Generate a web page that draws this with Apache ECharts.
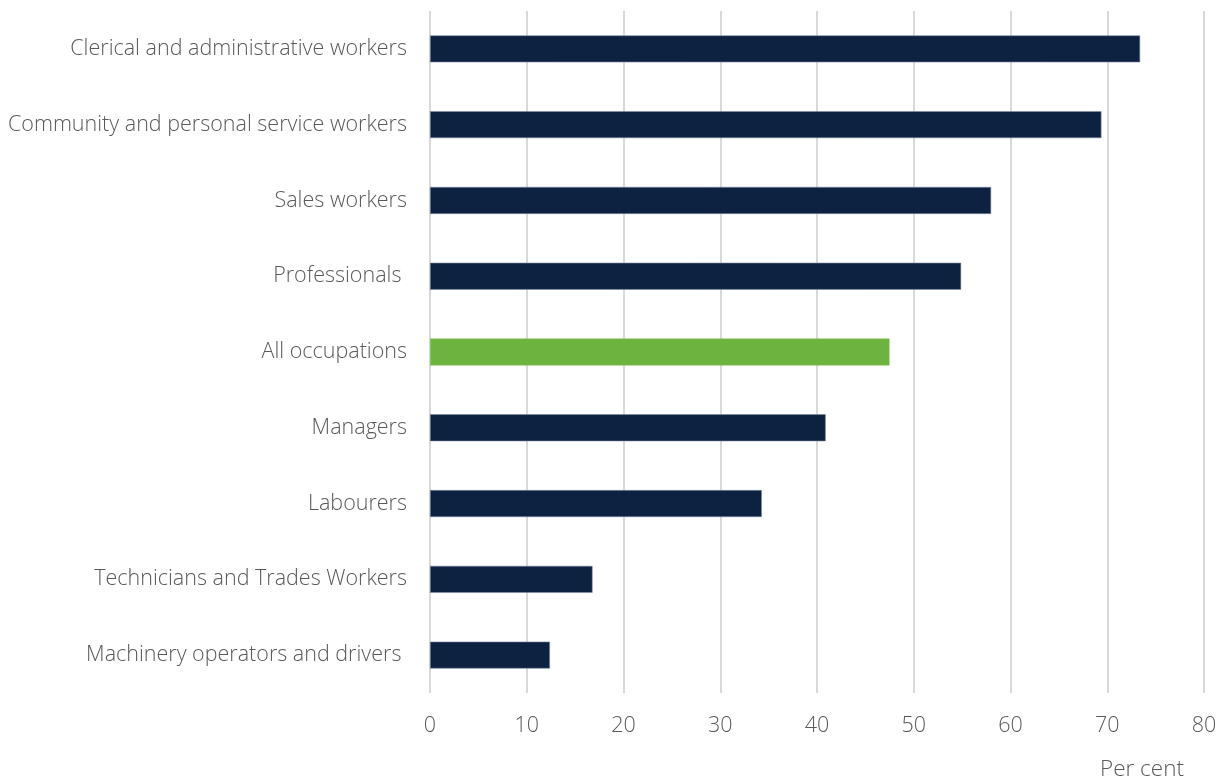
<!DOCTYPE html>
<html><head><meta charset="utf-8">
<script src="https://cdn.jsdelivr.net/npm/echarts@6/dist/echarts.min.js"></script>
<style>html,body{margin:0;padding:0;background:#fff}#c{width:1223px;height:784px}</style>
</head><body><div id="c"></div>
<script>
const categories = ["Machinery operators and drivers ", "Technicians and Trades Workers", "Labourers", "Managers", "All occupations", "Professionals ", "Sales workers", "Community and personal service workers", "Clerical and administrative workers"];
const values = [12.4, 16.8, 34.3, 40.9, 47.5, 54.9, 58.0, 69.4, 73.4];
const highlight = "All occupations";
const xTicks = [0, 10, 20, 30, 40, 50, 60, 70, 80];

const chart = echarts.init(document.getElementById('c'));
const font = '"Open Sans"';
const fw = 300;
chart.setOption({
  animation: false,
  title: { text: 'Per cent', left: 1095, top: 753, textStyle: { fontFamily: font, fontSize: 22.5, fontWeight: fw, color: '#595959' } },
  grid: { left: 430, right: 19, top: 11, bottom: 91 },
  xAxis: {
    type: 'value', min: xTicks[0], max: xTicks[xTicks.length - 1], interval: 10,
    axisLine: { show: false }, axisTick: { show: false },
    splitLine: { lineStyle: { color: '#d9d9d9', width: 2 } },
    axisLabel: { margin: 22, fontFamily: font, fontSize: 21.5, fontWeight: fw, color: '#595959' }
  },
  yAxis: {
    type: 'category', data: categories,
    axisLine: { show: false }, axisTick: { show: false },
    axisLabel: { margin: 23, fontFamily: font, fontSize: 21.5, fontWeight: fw, color: '#595959' }
  },
  series: [{
    type: 'bar', barWidth: 27,
    data: values.map((v, i) => ({
      value: v,
      itemStyle: { color: categories[i] === highlight ? '#6DB33F' : '#0D2240', borderColor: categories[i] === highlight ? '#8cc865' : '#7f8ea3', borderWidth: 0.6 }
    }))
  }]
});
</script></body></html>
